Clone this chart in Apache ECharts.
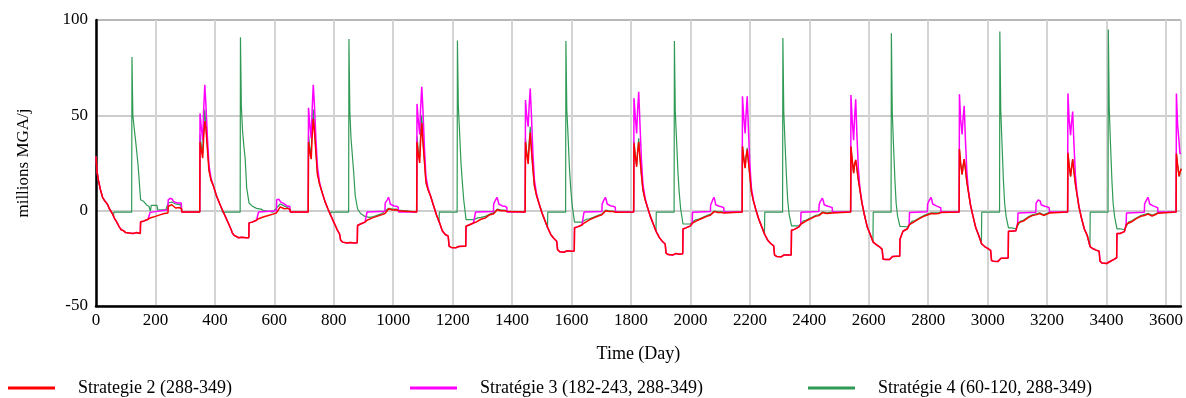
<!DOCTYPE html>
<html>
<head>
<meta charset="utf-8">
<script src="https://cdn.jsdelivr.net/npm/echarts@6/dist/echarts.min.js"></script>
<style>
html,body{margin:0;padding:0;background:#fff;}
#chart{width:1186px;height:398px;}
</style>
</head>
<body>
<div id="chart"></div>
<script>
// ---- labels ----
const seriesNames = ['Strategie 2 (288-349)', 'Stratégie 3 (182-243, 288-349)', 'Stratégie 4 (60-120, 288-349)'];
const xAxisTitle = 'Time (Day)';
const yAxisTitle = 'millions MGA/j';
const YEAR = 365;

// ---- day-of-year grids used by the data rows ----
const year0Days   = [0,3,8,15,22,30,38,45,55,62,70,78,85,92,100,110,125,135,149];
const declineDays = [5,10,15,22,30,40,50,60,70,80,90,93,100,115,125,140,149];
const riseDays    = [150,160,175,182,200,215,230,242,243,255,268,280,288,289,349];
const spikeDays   = [350,354,359,362,366];
const magRiseDays = [150,160,175,181,182,242,243,247,250,254,257,260,266,272,280,287,288,349];
const greenYear0Days = [0,3,8,15,22,30,38,45,55,59,60,120,121,124,128,133,137,142,150,160,170,178,183,186,205,208,235,243,255,268,285,288,289,349];
const greenDays   = [5,10,15,22,30,40,50,59,60,120,121,124,128,133,137,142,150,160,175,190,200,215,230,243,255,268,280,288,289,349];

// ---- Strategie 2 (red) ----
const redStart = [28.4,21,16,11,7,5,3.5,1,-1.5,-4,-6,-8.5,-10,-10.5,-11.5,-11.7,-12,-11.5,-12];
const redDecline = [ // years 1..9
  [43,32,21,16,13,8,4,0.5,-3,-6.5,-10,-11.5,-13,-14.2,-14,-14.2,-14.2],
  [42,30,19,14,10,5,1,-2.5,-6,-9.5,-12.5,-15.5,-16.5,-17,-16.7,-17,-16.8],
  [36,26,15,11,8,3,-2,-6,-10.5,-12.5,-13.4,-18.6,-19.3,-19.5,-18.8,-18.6,-18.6],
  [32,22,13,8,4,-1,-5,-9,-12.5,-14.5,-16,-20.5,-21.5,-21.8,-21,-21.3,-21.2],
  [28,19,11,6,2,-3,-7,-11,-14,-16,-17.5,-22.3,-23,-23.3,-22.5,-22.8,-22.6],
  [26,18,10,5,0.5,-4.5,-8.5,-12.5,-15.5,-17.2,-18.5,-23.3,-24,-24.2,-23.2,-23.3,-23.2],
  [22,16,11,4,-2,-8.6,-12.5,-16.5,-17.8,-18.8,-20.3,-25.4,-25.6,-25.6,-24,-23.9,-23.9],
  [22,15,10,3,-2.5,-9,-13,-17.5,-18.8,-19.8,-20.8,-26.2,-26.5,-26.6,-25,-25,-24.8],
  [21,14,9,2,-3.5,-9.5,-13,-19,-20,-20.7,-21.3,-26.5,-27.5,-27.7,-26.8,-25.5,-24.7]
];
const redRise = [ // years 0..9
  [-5.8,-5.5,-4.5,-3.8,-3,-2.2,-1.5,-1.2,2.3,3.1,1.4,1.6,1,-0.7,-0.7],
  [-6.4,-6,-5,-4.2,-3.2,-2.5,-1.8,-1.2,-0.3,2,1,1.2,0.5,-0.7,-0.7],
  [-7.8,-7,-6,-5,-3.8,-3,-2.2,-1.5,-1,1,0.3,0.5,0,-0.7,-0.7],
  [-8.2,-7.5,-6.5,-6.1,-4.5,-3.8,-2.1,-1.8,-1.5,0.5,0,0,-0.5,-0.7,-0.7],
  [-9,-8.5,-7.5,-6.5,-4.8,-3.8,-2.8,-2.2,-2,0,-0.5,-0.5,-0.8,-0.7,-0.7],
  [-9.6,-9,-8,-6.5,-5,-4,-3,-2.4,-2.2,-0.5,-1,-1,-1.2,-0.7,-0.7],
  [-10.3,-9.8,-8.5,-7,-5.3,-4.2,-3,-2.6,-2.4,-1,-1.5,-1.3,-1.2,-0.7,-0.7],
  [-15,-10.8,-9.5,-7.3,-5.6,-4.2,-3,-2.3,-2.1,-1.5,-1.6,-1.5,-1,-0.7,-0.7],
  [-10.8,-10.8,-10.5,-6.4,-5.5,-3.8,-2.6,-2.2,-2,-1.5,-2.5,-1.8,-1.2,-0.7,-0.7],
  [-12,-12,-11,-7,-5.8,-4.2,-3,-2.5,-2.3,-1.8,-2.8,-2,-1.3,-0.7,-0.7]
];
const redSpike = [ // years 0..9
  [36,32,27.5,38,47],
  [36,31,27,38,48],
  [36,30,25,36,46],
  [36,30,24.5,33,41],
  [35.4,29,23,30,36],
  [33.7,28,22.3,28,32],
  [33.6,27,19.7,24,26.6],
  [32.3,25,19,23,27],
  [30.4,24,18,22,27],
  [30,24,18,20,22]
];

// ---- Stratégie 3 (magenta) ----
const magStart = [28.4,21,16,11,7,5,3.5,1,-1.5,-4,-6,-8.5,-10,-10.5,-11.5,-11.7,-12,-11.5,-12];
const magDecline = [ // years 1..9
  [55,38,24,17,13,8,4,0.5,-3,-6.5,-10,-11.5,-13,-14.2,-14,-14.2,-14.2],
  [55,37,23,15,10,5,1,-2.5,-6,-9.5,-12.5,-15.5,-16.5,-17,-16.7,-17,-16.8],
  [53,33,18,12,8,3,-2,-6,-10.5,-12.5,-13.4,-18.6,-19.3,-19.5,-18.8,-18.6,-18.6],
  [50,30,16,9,4,-1,-5,-9,-12.5,-14.5,-16,-20.5,-21.5,-21.8,-21,-21.3,-21.2],
  [46,27,14,7,2,-3,-7,-11,-14,-16,-17.5,-22.3,-23,-23.3,-22.5,-22.8,-22.6],
  [43,24,12,5.5,0.5,-4.5,-8.5,-12.5,-15.5,-17.2,-18.5,-23.3,-24,-24.2,-23.2,-23.3,-23.2],
  [40,22,12,4.5,-2,-8.6,-12.5,-16.5,-17.8,-18.8,-20.3,-25.4,-25.6,-25.6,-24,-23.9,-23.9],
  [38,20,11,3.5,-2.5,-9,-13,-17.5,-18.8,-19.8,-20.8,-26.2,-26.5,-26.6,-25,-25,-24.8],
  [36,19,10,2.5,-3.5,-9.5,-13,-19,-20,-20.7,-21.3,-26.5,-27.5,-27.7,-26.8,-25.5,-24.7]
];
const magRise = [ // years 0..9
  [-5.8,-5.5,-4.5,-3.8,-0.9,0.5,5.7,6.3,6.5,7,6,4.9,4.5,4,4,4,-0.7,-0.7],
  [-6.4,-6,-5,-4.2,-0.7,0,5.7,6.3,6,5.5,4.5,3.5,3.8,2.8,2.3,2.3,-0.7,-0.7],
  [-7.8,-7,-6,-5,-0.7,-0.3,4,5,5.7,7,5.7,3.5,4,2.5,2.3,1.8,-0.7,-0.7],
  [-8.2,-7.5,-6.5,-6.1,-0.7,-0.4,3.5,4.9,5.7,7,5.7,3.5,4,2.5,2.3,1.8,-0.7,-0.7],
  [-9,-8.5,-7.5,-6.5,-0.7,-0.4,3.5,5,6,7,5.5,3.5,4,2.5,2.3,1.8,-0.7,-0.7],
  [-9.6,-9,-8,-6.5,-0.8,-0.5,3.1,4.5,5.7,7,5.5,3.1,4,2.3,2,1.5,-0.7,-0.7],
  [-10.3,-9.8,-8.5,-7,-0.8,-0.5,3.1,4.9,5.7,6.5,5.2,3.1,3.5,2.3,2,1.5,-0.7,-0.7],
  [-15,-10.8,-9.5,-7.3,-0.9,-0.6,3.5,4.9,5.7,7,5.7,3.5,4,2.5,2,1.5,-0.7,-0.7],
  [-10.8,-10.8,-10.5,-6.4,-1.2,-0.8,4,4.9,5.7,6.5,5,3.1,3.5,2.3,2,1.5,-0.7,-0.7],
  [-12,-12,-11,-7,-1.2,-0.8,3.5,4.9,5.7,7,5.7,3.5,4,2.5,2,1.5,-0.7,-0.7]
];
const magSpike = [ // years 0..9
  [51,44,37,52,66],
  [54,46,38,52,66],
  [56,48,40,53,65],
  [58,50,44,54,64],
  [59,50,40.5,52,62.4],
  [60,50,40.5,50,60],
  [60.6,48,37,48,58.4],
  [61,48,40,48,55],
  [61.5,48,39.6,46,52],
  [61.5,45,36,30,30]
];

// ---- Stratégie 4 (green) ----
const greenStart = [28.4,21,16,11,7,5,3.5,1,-1.5,-3,-0.8,-0.8,80.6,50,44,37,31,23,5.7,4.9,3,2.3,-0.3,2.8,2.8,0.3,0.5,4,4.5,3.5,3,3,-0.7,-0.7];
const greenYears = [ // years 1..9
  [44,33,22,16,13,8,4,0.5,-0.8,-0.8,91,55,42,33,27,12,4,2.5,1.2,0.8,0,-0.3,-0.8,1.5,3.5,2.5,1.5,1,-0.7,-0.7],
  [43,31,20,14,10,5,1,-2.5,-0.8,-0.8,90,52,38,28,20,8,1,-1.5,-3,-3.5,-3.3,-2.5,-1.7,0,1.2,0.8,0.8,0.3,-0.7,-0.7],
  [37,26,15,11,8,3,-2,-6,-0.8,-0.8,89.3,55,42,25,16,6,-4.7,-4.7,-4.7,-3.8,-3.5,-3,-1.8,-1,0.8,0.3,0.3,-0.3,-0.7,-0.7],
  [32,22,13,8,4,-1,-5,-9,-0.8,-0.8,89,53,40,22,12,3,-6,-6,-6,-4.5,-4.3,-3.4,-2.4,-1.6,0.3,-0.2,-0.2,-0.5,-0.7,-0.7],
  [28,19,11,6,2,-3,-7,-11,-0.8,-0.8,89,52,38,20,10,1,-7,-7,-7,-5,-4.6,-3.6,-2.6,-1.8,-0.2,-0.6,-0.6,-0.8,-0.7,-0.7],
  [26,18,10,5,0.5,-4.5,-8.5,-12.5,-0.8,-0.8,90.5,52,36,18,6,-2,-8,-8,-8,-5.3,-4.9,-3.8,-2.6,-2,-0.6,-1.1,-0.9,-0.8,-0.7,-0.7],
  [22,16,11,4,-2,-8.6,-12.5,-16.5,-0.8,-0.8,93,52,35,16,4,-3,-8.2,-8.3,-8.5,-5.6,-5.2,-3.8,-2.6,-1.7,-1.1,-1.2,-1.1,-0.8,-0.7,-0.7],
  [22,15,10,3,-2.5,-9,-13,-17.5,-0.8,-0.8,94,53,36,16,4,-3,-9,-9,-9.5,-5.5,-5,-3.4,-2.2,-1.6,-1.1,-2.1,-1.4,-0.9,-0.7,-0.7],
  [21,14,9,2,-3.5,-9.5,-13,-19,-0.8,-0.8,95,54,36,16,4,-3,-9.5,-9.5,-10,-5.8,-5.3,-3.8,-2.6,-1.9,-1.4,-2.4,-1.6,-1,-0.7,-0.7]
];
const greenSpike = [ // years 0..9
  [40,34,30,44,53],
  [40,33,30,44,53],
  [39,32,28,40,50],
  [38,31,26,35,44],
  [36.5,30,24,31,38],
  [34,28.5,22.5,28,33],
  [33.6,27,19.7,24,26.6],
  [32.3,25,19,23,27],
  [30.4,24,18,22,27],
  [30,24,18,20,22]
];

// ---- assemble [day, value] pairs ----
function assemble(parts) {
  const out = [];
  parts.forEach(function (p) {
    const days = p[0], vals = p[1], y = p[2];
    days.forEach(function (d, i) { out.push([y * YEAR + d, vals[i]]); });
  });
  return out;
}
const redParts = [], magParts = [], greenParts = [];
for (let y = 0; y < 10; y++) {
  if (y === 0) {
    redParts.push([year0Days, redStart, 0]);
    magParts.push([year0Days, magStart, 0]);
    greenParts.push([greenYear0Days, greenStart, 0]);
  } else {
    redParts.push([declineDays, redDecline[y - 1], y]);
    magParts.push([declineDays, magDecline[y - 1], y]);
    greenParts.push([greenDays, greenYears[y - 1], y]);
  }
  redParts.push([riseDays, redRise[y], y]);
  magParts.push([magRiseDays, magRise[y], y]);
  redParts.push([spikeDays, redSpike[y], y]);
  magParts.push([spikeDays, magSpike[y], y]);
  greenParts.push([spikeDays, greenSpike[y], y]);
}
const redData = assemble(redParts);
const magData = assemble(magParts);
const greenData = assemble(greenParts);

const FONT = "'Liberation Serif', 'Times New Roman', serif";
const chart = echarts.init(document.getElementById('chart'), null, {renderer: 'canvas'});

function legendFor(name, left) {
  return {
    left: left, top: 379, padding: 0,
    data: [name], icon: 'rect', itemWidth: 47, itemHeight: 3,
    selectedMode: false,
    textStyle: {fontFamily: FONT, fontSize: 18, color: '#000', padding: [0, 0, 0, 18]}
  };
}

chart.setOption({
  animation: false,
  backgroundColor: '#fff',
  grid: {left: 96, top: 20, width: 1086, height: 286, show: true, borderColor: '#555', borderWidth: 1, containLabel: false},
  legend: [legendFor(seriesNames[0], 8), legendFor(seriesNames[1], 410), legendFor(seriesNames[2], 808)],
  xAxis: {
    type: 'value', min: 0, max: 3650, interval: 200,
    name: xAxisTitle, nameLocation: 'middle', nameGap: 39,
    nameTextStyle: {fontFamily: FONT, fontSize: 18, color: '#000'},
    axisLine: {show: true, onZero: false, lineStyle: {color: '#000', width: 2.5}},
    axisTick: {show: false},
    axisLabel: {fontFamily: FONT, fontSize: 17, color: '#000', margin: 6, showMaxLabel: false,
                formatter: function (v) { return String(v); }},
    splitLine: {show: true, lineStyle: {color: '#d4d4d4', width: 2}}
  },
  yAxis: {
    type: 'value', min: -50, max: 100, interval: 50,
    name: yAxisTitle, nameLocation: 'middle', nameGap: 64, nameRotate: 90,
    nameTextStyle: {fontFamily: FONT, fontSize: 17, color: '#000'},
    axisLine: {show: true, lineStyle: {color: '#000', width: 2.5}},
    axisTick: {show: false},
    axisLabel: {fontFamily: FONT, fontSize: 17, color: '#000', margin: 8,
                formatter: function (v) { return String(v); }},
    splitLine: {show: true, lineStyle: {color: '#bdbdbd', width: 1.5}}
  },
  series: [
    {name: seriesNames[2], type: 'line', data: greenData, showSymbol: false, symbol: 'none',
     lineStyle: {color: '#2f9a55', width: 1.2}, itemStyle: {color: '#2f9a55'}, z: 2},
    {name: seriesNames[1], type: 'line', data: magData, showSymbol: false, symbol: 'none',
     lineStyle: {color: '#ff00ff', width: 1.5}, itemStyle: {color: '#ff00ff'}, z: 3},
    {name: seriesNames[0], type: 'line', data: redData, showSymbol: false, symbol: 'none',
     lineStyle: {color: '#ff0000', width: 1.5}, itemStyle: {color: '#ff0000'}, z: 4}
  ]
});
</script>
</body>
</html>
